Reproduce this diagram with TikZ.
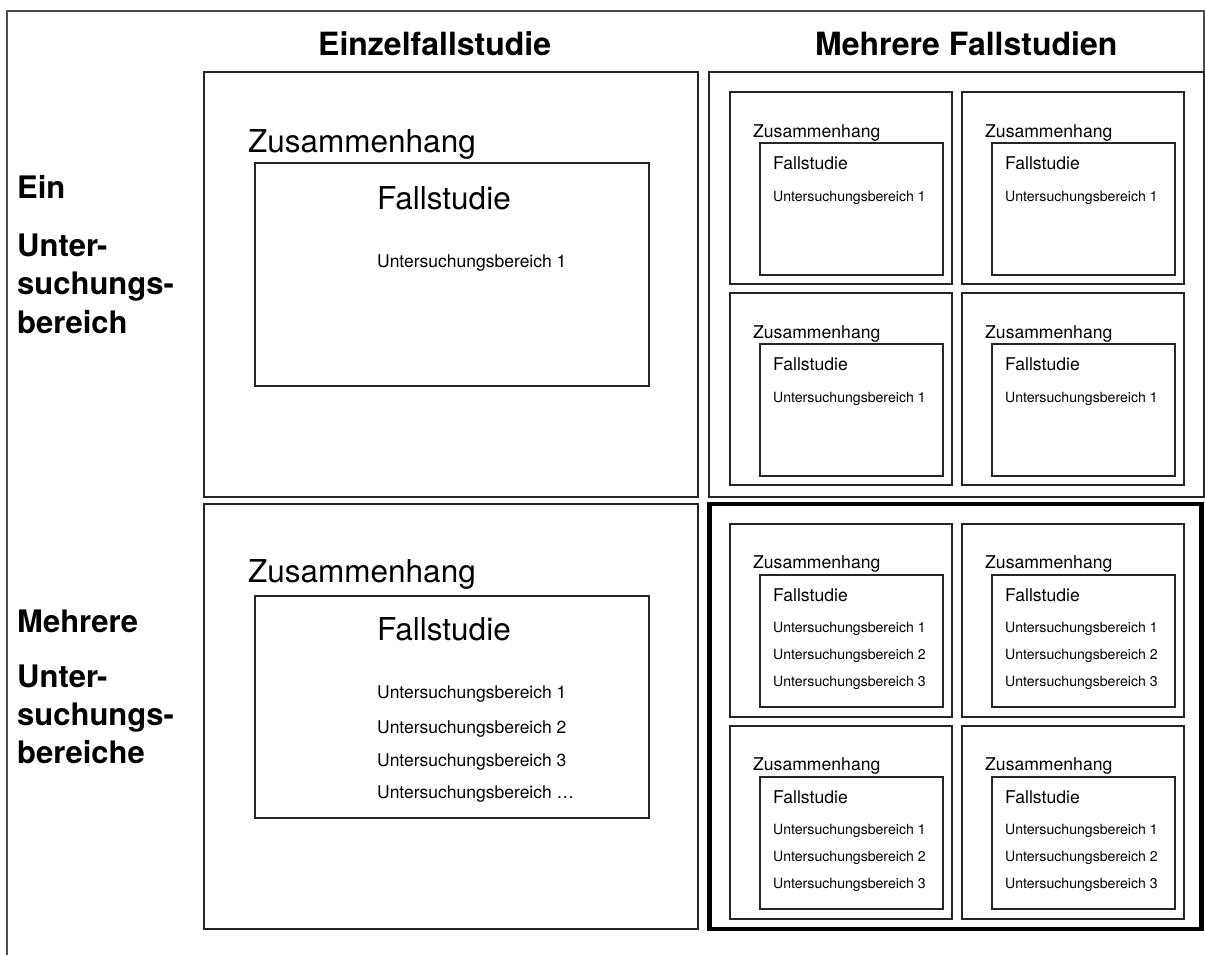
\documentclass[tikz,border=0pt]{standalone}
\usepackage{fontspec}
\setmainfont{TeX Gyre Heros}
\usetikzlibrary{fit}
\newcommand\fHead{\fontsize{32}{38}\bfseries\selectfont}
\newcommand\fSide{\fontsize{31}{38}\bfseries\selectfont}
\newcommand\fBig{\fontsize{31.5}{38}\selectfont}
\newcommand\fUB{\fontsize{17.5}{21}\selectfont}
\newcommand\fMid{\fontsize{17.6}{21}\selectfont}
\newcommand\fSmall{\fontsize{14.1}{17}\selectfont}
\begin{document}
\begin{tikzpicture}[x=1pt,y=-1pt,
  box/.style={draw=black!85, line width=1.1pt, inner sep=0pt},
  sbox/.style={draw=black!85, line width=1.3pt, inner sep=0pt},
  thickbox/.style={draw=black, line width=4.5pt, inner sep=0pt},
  tl/.style={anchor=base west, inner sep=0pt, text=black},
  frame/.style={draw=black!70, line width=2pt}]
\useasboundingbox (0,0) rectangle (1205,954);
\fill[white] (0,0) rectangle (1205,954);
% outer frame
\coordinate (fa) at (7,960);
\coordinate (fb) at (7,11);
\coordinate (fc) at (1204,11);
\coordinate (fd) at (1204,497);
\draw[frame] (fa) -- (fb) -- (fc) -- (fd);
% headers
\node[tl,font=\fHead] (h1) at (318,55) {Einzelfallstudie};
\node[tl,font=\fHead] (h2) at (815,55) {Mehrere Fallstudien};
% side labels
\node[tl,font=\fSide] (l1) at (17,198) {Ein};
\node[tl,font=\fSide] (l2) at (17,256) {Unter-};
\node[tl,font=\fSide] (l3) at (17,294) {suchungs-};
\node[tl,font=\fSide] (l4) at (17,333) {bereich};
\node[tl,font=\fSide] (m1) at (17,632) {Mehrere};
\node[tl,font=\fSide] (m2) at (17,687) {Unter-};
\node[tl,font=\fSide] (m3) at (17,725) {suchungs-};
\node[tl,font=\fSide] (m4) at (17,763) {bereiche};
% top-left quadrant
\node[box, fit={(204,72) (698,497)}] (q1) {};
\node[box, fit={(255,163) (649,386)}] (q1i) {};
\node[tl,font=\fBig] (q1z) at (248,152) {Zusammenhang};
\node[tl,font=\fBig] (q1f) at (377,209) {Fallstudie};
\node[tl,font=\fUB] (q1u) at (377,267) {Untersuchungsbereich 1};
% bottom-left quadrant
\node[box, fit={(204,504) (698,929)}] (q3) {};
\node[box, fit={(255,596) (649,818)}] (q3i) {};
\node[tl,font=\fBig] (q3z) at (248,582) {Zusammenhang};
\node[tl,font=\fBig] (q3f) at (377,640) {Fallstudie};
\node[tl,font=\fUB] (q3u1) at (377,698) {Untersuchungsbereich 1};
\node[tl,font=\fUB] (q3u2) at (377,733) {Untersuchungsbereich 2};
\node[tl,font=\fUB] (q3u3) at (377,766) {Untersuchungsbereich 3};
\node[tl,font=\fUB] (q3u4) at (377,798) {Untersuchungsbereich …};
% top-right quadrant
\node[box, fit={(709,72) (1204,497)}] (q2) {};
\foreach \c/\dx in {1/0,2/232}{
  \foreach \r/\dy in {1/0,2/201}{
    \node[sbox, fit={(730+\dx,92+\dy) (952+\dx,284+\dy)}] (a\r\c) {};
    \node[sbox, fit={(760+\dx,143+\dy) (943+\dx,275+\dy)}] (ai\r\c) {};
    \node[tl,font=\fMid] (az\r\c) at (753+\dx,137+\dy) {Zusammenhang};
    \node[tl,font=\fMid] (af\r\c) at (773+\dx,169+\dy) {Fallstudie};
    \node[tl,font=\fSmall] (au\r\c) at (773+\dx,201+\dy) {Untersuchungsbereich 1};
  }
}
% bottom-right quadrant
\node[thickbox, fit={(709.5,504) (1201.5,929)}] (q4) {};
\foreach \c/\dx in {1/0,2/232}{
  \foreach \r/\dy in {1/0,2/202}{
    \node[sbox, fit={(730+\dx,524+\dy) (952+\dx,717+\dy)}] (b\r\c) {};
    \node[sbox, fit={(760+\dx,575+\dy) (943+\dx,707+\dy)}] (bi\r\c) {};
    \node[tl,font=\fMid] (bz\r\c) at (753+\dx,568+\dy) {Zusammenhang};
    \node[tl,font=\fMid] (bf\r\c) at (773+\dx,601+\dy) {Fallstudie};
    \node[tl,font=\fSmall] (bu\r\c a) at (773+\dx,632+\dy) {Untersuchungsbereich 1};
    \node[tl,font=\fSmall] (bu\r\c b) at (773+\dx,659+\dy) {Untersuchungsbereich 2};
    \node[tl,font=\fSmall] (bu\r\c c) at (773+\dx,686+\dy) {Untersuchungsbereich 3};
  }
}
\end{tikzpicture}
\end{document}
